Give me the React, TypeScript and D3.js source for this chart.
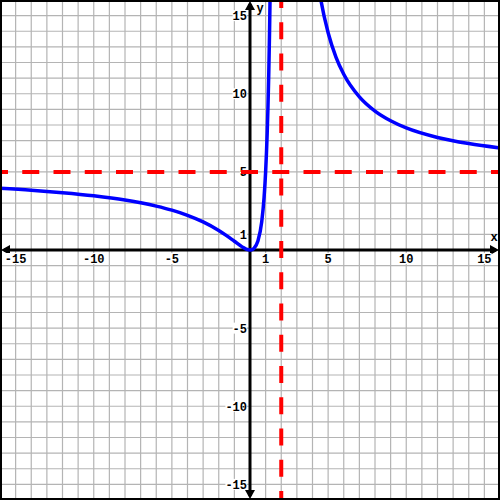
import React from "react";
import * as d3 from "d3";

const W = 500;
const H = 500;
const xDomain: [number, number] = [-16, 16];
const yDomain: [number, number] = [-16, 16];

const xTickLabels = [-15, -10, -5, 1, 5, 10, 15];
const yTickLabels = [15, 10, 5, 1, -5, -10, -15];

const vAsymptote = 2;
const hAsymptote = 5;

// Left branch (x, y)
const leftX = [-16, -14, -12, -10, -8, -6, -5, -4, -3, -2, -1.5, -1, -0.5, -0.25, 0, 0.1, 0.25, 0.5, 0.75, 0.9, 1, 1.1, 1.15, 1.2, 1.25, 1.3];
const leftY = [3.95, 3.83, 3.67, 3.47, 3.2, 2.81, 2.55, 2.22, 1.8, 1.25, 0.92, 0.56, 0.2, 0.06, 0, 0.014, 0.1, 0.56, 1.8, 3.35, 5, 7.47, 9.15, 11.25, 13.9, 17.2];

// Right branch
const rightX = [4.3, 4.5, 5, 5.5, 6, 7, 8, 9, 10, 12, 14, 16];
const rightY = [17.5, 16.2, 13.9, 12.35, 11.25, 9.8, 8.89, 8.27, 7.81, 7.2, 6.81, 6.53];

export default function App() {
  const x = d3.scaleLinear().domain(xDomain).range([0, W]);
  const y = d3.scaleLinear().domain(yDomain).range([H, 0]);
  const gridVals = d3.range(-16, 17, 1);

  const line = d3
    .line<[number, number]>()
    .x((d) => x(d[0]))
    .y((d) => y(d[1]))
    .curve(d3.curveMonotoneX);

  const left: [number, number][] = leftX.map((v, i) => [v, leftY[i]]);
  const right: [number, number][] = rightX.map((v, i) => [v, rightY[i]]);

  const x0 = x(0);
  const y0 = y(0);
  const font = "'Liberation Mono', 'DejaVu Sans Mono', monospace";

  return (
    <svg
      width={W}
      height={H}
      style={{ position: "absolute", left: 0, top: 0, background: "#fff" }}
      fontFamily={font}
      fontWeight="bold"
      fontSize={12}
    >
      <defs>
        <clipPath id="plot">
          <rect x={0} y={0} width={W} height={H} />
        </clipPath>
      </defs>
      <rect x={0} y={0} width={W} height={H} fill="#fff" />
      {gridVals.map((v) => (
        <line key={"gx" + v} x1={x(v)} x2={x(v)} y1={0} y2={H} stroke="#b4b4b4" strokeWidth={1.2} />
      ))}
      {gridVals.map((v) => (
        <line key={"gy" + v} y1={y(v)} y2={y(v)} x1={0} x2={W} stroke="#b4b4b4" strokeWidth={1.2} />
      ))}

      {/* axes */}
      <line x1={4} x2={W - 4} y1={y0} y2={y0} stroke="#000" strokeWidth={3} />
      <line y1={4} y2={H - 4} x1={x0} x2={x0} stroke="#000" strokeWidth={3} />
      <polygon points={`${1},${y0} ${10},${y0 - 5} ${10},${y0 + 5}`} fill="#000" />
      <polygon points={`${W - 1},${y0} ${W - 10},${y0 - 5} ${W - 10},${y0 + 5}`} fill="#000" />
      <polygon points={`${x0},${1} ${x0 - 5},${10} ${x0 + 5},${10}`} fill="#000" />
      <polygon points={`${x0},${H - 1} ${x0 - 5},${H - 10} ${x0 + 5},${H - 10}`} fill="#000" />

      {/* tick labels */}
      {xTickLabels.map((v) => {
        const t = String(v);
        const w = t.length * 7.2;
        return (
          <g key={"xl" + v}>
            <rect x={x(v) - w / 2} y={y0 + 3} width={w} height={11} fill="#fff" />
            <text x={x(v)} y={y0 + 12.5} textAnchor="middle" fill="#000">
              {t}
            </text>
          </g>
        );
      })}
      {yTickLabels.map((v) => {
        const t = String(v);
        const w = t.length * 7.2;
        return (
          <g key={"yl" + v}>
            <rect x={x0 - 3 - w} y={y(v) - 5.5} width={w} height={11} fill="#fff" />
            <text x={x0 - 3} y={y(v) + 4.5} textAnchor="end" fill="#000">
              {t}
            </text>
          </g>
        );
      })}
      <text x={494} y={241} textAnchor="middle" fill="#000">x</text>
      <text x={260} y={12} textAnchor="middle" fill="#000">y</text>

      {/* asymptotes */}
      <line
        x1={0}
        x2={W}
        y1={y(hAsymptote)}
        y2={y(hAsymptote)}
        stroke="#ff0000"
        strokeWidth={4}
        strokeDasharray="17 14.25"
        strokeDashoffset={9}
      />
      <line
        x1={x(vAsymptote)}
        x2={x(vAsymptote)}
        y1={0}
        y2={H}
        stroke="#ff0000"
        strokeWidth={4}
        strokeDasharray="17 14.25"
        strokeDashoffset={9}
      />

      {/* curve */}
      <g clipPath="url(#plot)">
        <path d={line(left) || ""} fill="none" stroke="#0000ff" strokeWidth={3.5} />
        <path d={line(right) || ""} fill="none" stroke="#0000ff" strokeWidth={3.5} />
      </g>

      <rect x={1} y={1} width={W - 2} height={H - 2} fill="none" stroke="#000" strokeWidth={2} />
    </svg>
  );
}
